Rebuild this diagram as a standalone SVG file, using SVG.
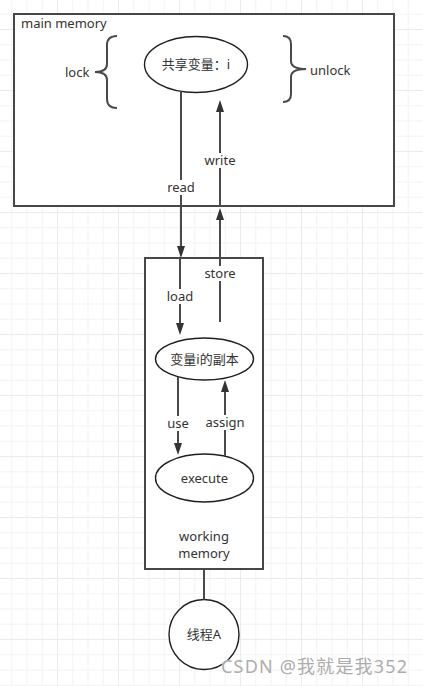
<svg xmlns="http://www.w3.org/2000/svg" width="423" height="686" viewBox="0 0 423 686">
<defs>
<pattern id="grid" patternUnits="userSpaceOnUse" x="-4" y="29" width="61" height="61">
<rect x="0" y="0" width="61" height="61" fill="#ffffff"/>
<rect x="15.25" y="0" width="1" height="61" fill="#f4f4f4"/>
<rect x="30.5" y="0" width="1" height="61" fill="#f4f4f4"/>
<rect x="45.75" y="0" width="1" height="61" fill="#f4f4f4"/>
<rect x="0" y="15.25" width="61" height="1" fill="#f4f4f4"/>
<rect x="0" y="30.5" width="61" height="1" fill="#f4f4f4"/>
<rect x="0" y="45.75" width="61" height="1" fill="#f4f4f4"/>
<rect x="0" y="0" width="1" height="61" fill="#ebebeb"/>
<rect x="0" y="0" width="61" height="1" fill="#ebebeb"/>
</pattern>
<marker id="arr" viewBox="0 0 12 8" markerWidth="12" markerHeight="8" refX="1" refY="4" orient="auto" markerUnits="userSpaceOnUse">
<path d="M0,0 L12,4 L0,8 Z" fill="#333"/>
</marker>
</defs>
<style>
.box{fill:#ffffff;stroke:#474747;stroke-width:2}
.ell{fill:#ffffff;stroke:#1f1f1f;stroke-width:1.4}
.edge{fill:none;stroke:#4a4a4a;stroke-width:2}
.brace{fill:none;stroke:#4a4a4a;stroke-width:2}
.t{font-family:"Noto Sans","Noto Sans CJK SC",sans-serif;font-size:13px;fill:#333333}
.c{text-anchor:middle}
.lbl{fill:#ffffff}
.wm{font-family:"Noto Sans","Noto Sans CJK SC",sans-serif;font-size:18px;fill:#acacac;stroke:#ffffff;stroke-width:0.6;paint-order:stroke}
</style>
<rect x="0" y="0" width="423" height="686" fill="url(#grid)"/>

<g id="main-memory">
<rect class="box" x="14" y="14" width="380" height="192"/>
<text class="t" x="21" y="28">main memory</text>
</g>

<g id="working-memory">
<rect class="box" x="145" y="258" width="118" height="311"/>
<text class="t c" x="204" y="541">working</text>
<text class="t c" x="204" y="558">memory</text>
</g>

<g id="lock">
<path class="brace" d="M117,36 Q107,36 107,45 L107,64 Q107,72 95,72 Q107,72 107,80 L107,99 Q107,108 117,108"/>
<text class="t" x="65" y="77">lock</text>
</g>

<g id="unlock">
<path class="brace" d="M283,36 Q291,36 291,44 L291,61 Q291,69 306,69 Q291,69 291,77 L291,94 Q291,102 283,102"/>
<text class="t" x="310" y="75">unlock</text>
</g>

<g id="shared-var">
<ellipse class="ell" cx="196" cy="64.5" rx="51.5" ry="28"/>
<text class="t c" x="196" y="69">共享变量：i</text>
</g>

<g id="copy-var">
<ellipse class="ell" cx="204.5" cy="359" rx="49" ry="21"/>
<text class="t c" x="204.5" y="364">变量i的副本</text>
</g>

<g id="execute">
<ellipse class="ell" cx="204.5" cy="478" rx="49" ry="24"/>
<text class="t c" x="204.5" y="483">execute</text>
</g>

<g id="thread-a">
<circle class="ell" cx="204" cy="634.5" r="35"/>
<text class="t c" x="204" y="639">线程A</text>
</g>

<g id="connectors">
<line class="edge" x1="181" y1="91" x2="181" y2="247" marker-end="url(#arr)"/>
<line class="edge" x1="220" y1="206" x2="220" y2="111" marker-end="url(#arr)"/>
<line class="edge" x1="220" y1="322" x2="220" y2="219" marker-end="url(#arr)"/>
<line class="edge" x1="180" y1="258" x2="180" y2="324" marker-end="url(#arr)"/>
<line class="edge" x1="178" y1="377" x2="178" y2="444" marker-end="url(#arr)"/>
<line class="edge" x1="225" y1="456" x2="225" y2="391" marker-end="url(#arr)"/>
<line class="edge" x1="204" y1="569" x2="204" y2="599.5"/>

<rect class="lbl" x="166" y="180" width="30" height="15"/>
<text class="t c" x="181" y="192">read</text>
<rect class="lbl" x="203" y="153" width="34" height="15"/>
<text class="t c" x="220" y="165">write</text>
<rect class="lbl" x="203" y="266" width="34" height="15"/>
<text class="t c" x="220" y="278">store</text>
<rect class="lbl" x="165" y="289" width="30" height="15"/>
<text class="t c" x="180" y="301">load</text>
<rect class="lbl" x="166" y="416" width="24" height="15"/>
<text class="t c" x="178" y="428">use</text>
<rect class="lbl" x="205" y="415" width="40" height="15"/>
<text class="t c" x="225" y="427">assign</text>
</g>

<text class="wm" x="221" y="673" textLength="186" lengthAdjust="spacing">CSDN @我就是我352</text>
</svg>
